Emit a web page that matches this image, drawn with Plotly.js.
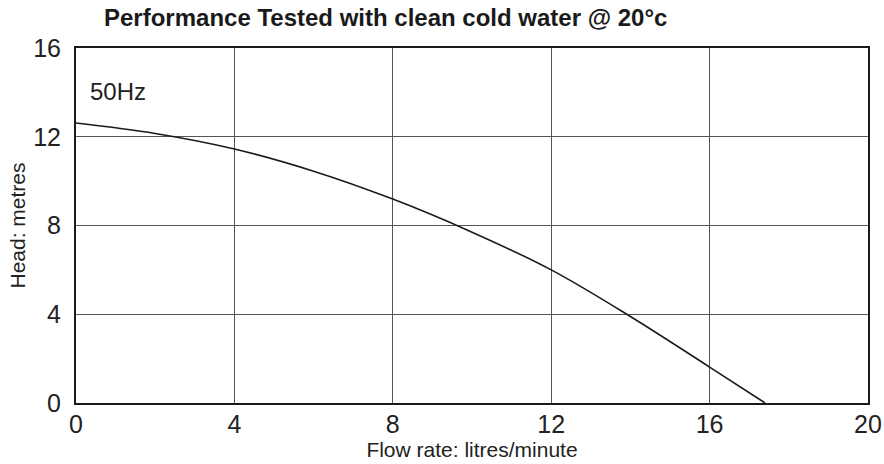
<!DOCTYPE html>
<html>
<head>
<meta charset="utf-8">
<script src="https://cdn.plot.ly/plotly-3.0.1.min.js"></script>
<style>html,body{margin:0;padding:0;background:#fff;}#chart{width:884px;height:464px;}</style>
</head>
<body>
<div id="chart"></div>
<script>
const flowRate = [0, 2, 4, 6, 8, 10, 12, 14, 16, 17.4];
const headMetres = [12.62, 12.15, 11.45, 10.45, 9.19, 7.7, 6.0, 3.9, 1.62, 0];
const xTicks = [0, 4, 8, 12, 16, 20];
const yTicks = [0, 4, 8, 12, 16];
const titleText = "Performance Tested with clean cold water @ 20°c";
const xTitle = "Flow rate: litres/minute";
const yTitle = "Head: metres";
const freqLabel = "50Hz";

const FONT = "Liberation Sans, Arial, Helvetica, sans-serif";

const trace = {
  x: flowRate, y: headMetres, type: "scatter", mode: "lines",
  line: {color: "#1a1a1a", width: 1.6, shape: "spline", smoothing: 1},
  hoverinfo: "skip"
};

const layout = {
  width: 884, height: 464,
  margin: {l: 76, r: 16, t: 48, b: 61},
  paper_bgcolor: "#fff", plot_bgcolor: "#fff",
  showlegend: false,
  font: {family: FONT, color: "#222"},
  title: {
    text: "<b>" + titleText + "</b>",
    font: {family: FONT, size: 24, color: "#1a1a1a"},
    x: 104 / 884, xanchor: "left", xref: "container",
    y: 1 - 18 / 464, yanchor: "middle", yref: "container"
  },
  xaxis: {
    range: [0, 20], tickvals: xTicks, ticktext: xTicks.map(String),
    showgrid: true, gridcolor: "#555", gridwidth: 1,
    showline: true, linecolor: "#1a1a1a", linewidth: 2, mirror: true,
    zeroline: false, ticks: "", ticklabelstandoff: -2,
    tickfont: {family: FONT, size: 25, color: "#222"},
    title: {text: xTitle, font: {family: FONT, size: 21, color: "#222"}, standoff: 0},
    fixedrange: true
  },
  yaxis: {
    range: [0, 16], tickvals: yTicks, ticktext: yTicks.map(String),
    showgrid: true, gridcolor: "#555", gridwidth: 1,
    showline: true, linecolor: "#1a1a1a", linewidth: 2, mirror: true,
    zeroline: false, ticks: "", ticklabelstandoff: 8,
    tickfont: {family: FONT, size: 25, color: "#222"},
    title: {text: yTitle, font: {family: FONT, size: 21, color: "#222"}, standoff: 2},
    fixedrange: true
  },
  annotations: [{
    text: freqLabel, xref: "x", yref: "y", x: 0.3, y: 14.05,
    xanchor: "left", yanchor: "middle", showarrow: false,
    font: {family: FONT, size: 24, color: "#222"}
  }]
};

Plotly.newPlot("chart", [trace], layout, {displayModeBar: false, staticPlot: true});
</script>
</body>
</html>
